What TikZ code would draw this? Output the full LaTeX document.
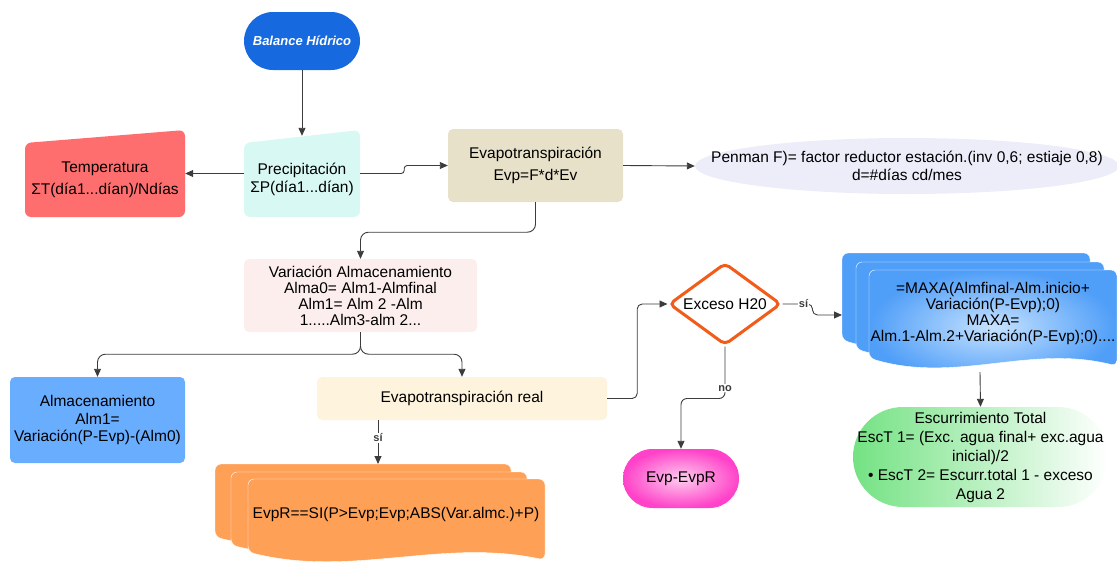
\documentclass[tikz,border=0pt]{standalone}
\usepackage{fontspec}
\setmainfont{Liberation Sans}
\usetikzlibrary{shapes.geometric,arrows.meta}

\definecolor{balblue}{HTML}{1769E0}
\definecolor{tempred}{HTML}{FF6E6E}
\definecolor{preccyan}{HTML}{D8F8F3}
\definecolor{evapbeige}{HTML}{E8E1C9}
\definecolor{penlav}{HTML}{EDEDFA}
\definecolor{varpink}{HTML}{FDEEEE}
\definecolor{almblue}{HTML}{69ADFF}
\definecolor{realcream}{HTML}{FEF3DC}
\definecolor{evprorange}{HTML}{FFA057}
\definecolor{excorange}{HTML}{F25C19}
\definecolor{maxablue}{HTML}{4F9EF8}
\definecolor{maxalight}{HTML}{C6E2FF}
\definecolor{escgreen}{HTML}{74E283}
\definecolor{eepink}{HTML}{FF42C9}
\definecolor{eelight}{HTML}{FFCDEF}
\definecolor{linegray}{HTML}{3C3C3C}

\tikzset{
  box/.style={rounded corners=5pt, align=center, inner sep=2pt},
  conn/.style={draw=linegray, line width=0.9pt, -{Triangle[length=8pt,width=7pt]}},
  lbl/.style={fill=white, inner sep=1pt, text=linegray, font=\bfseries\fontsize{11}{13}\selectfont},
  manual/.style={minimum width=116pt, minimum height=87pt, align=center, inner sep=2pt,
    path picture={\fill[#1, rounded corners=6pt] ([yshift=-13pt]path picture bounding box.north west)
      -- (path picture bounding box.north east) -- (path picture bounding box.south east)
      -- (path picture bounding box.south west) -- cycle;}}
}

\begin{document}
\begin{tikzpicture}[x=1pt, y=-1pt, font=\fontsize{15.5}{17.5}\selectfont]
\useasboundingbox (0,0) rectangle (1117,562);

% stacked sheets
\foreach \dx/\dy in {0/0,16/8}
  \draw[draw=white, fill=evprorange, rounded corners=6pt] (215+\dx,537+\dy) -- (215+\dx,464+\dy) -- (511+\dx,464+\dy) -- (511+\dx,545+\dy) .. controls (407+\dx,523+\dy) and (319+\dx,563+\dy) .. (215+\dx,537+\dy) -- cycle;
\draw[draw=white, fill=evprorange, rounded corners=6pt] (248,552) -- (248,479) -- (545,479) -- (545,560) .. controls (441,538) and (352,578) .. (248,552) -- cycle;

\foreach \dx/\dy in {0/0,14/9}
  \draw[draw=white, fill=maxablue, rounded corners=6pt] (842+\dx,340+\dy) -- (842+\dx,253+\dy) -- (1090+\dx,253+\dy) -- (1090+\dx,348+\dy) .. controls (1003+\dx,326+\dy) and (929+\dx,366+\dy) .. (842+\dx,340+\dy) -- cycle;
\shadedraw[draw=white, inner color=maxalight, outer color=maxablue, rounded corners=6pt] (869,358) -- (869,270) -- (1117,270) -- (1117,366) .. controls (1030,344) and (956,384) .. (869,358) -- cycle;
\coordinate (maxain) at (842,315);
\coordinate (maxaout) at (980,372);
\coordinate (evprtop) at (378,464);

% nodes
\node[box, fill=balblue, rounded corners=29pt, minimum width=116pt, minimum height=58pt, text=white, font=\bfseries\itshape\fontsize{13}{15}\selectfont] (bal) at (302,41) {Balance Hídrico};
\node[manual=preccyan] (prec) at (302,173.5) {\mbox{}\\[5.5pt]Precipitación\\ΣP(día1...dían)};
\node[manual=tempred, minimum width=160pt] (temp) at (105,173.5) {\mbox{}\\[5.5pt]Temperatura\\[5pt]ΣT(día1...dían)/Ndías};
\node[box, fill=evapbeige, minimum width=175pt, minimum height=73pt] (evap) at (535.5,165.5) {Evapotranspiración\\[5pt]Evp=F*d*Ev};
\node[align=center, inner sep=0pt, minimum width=424pt, minimum height=56pt,
  path picture={\fill[penlav] (path picture bounding box.center) ellipse [x radius=212pt, y radius=28pt];}] (pen) at (907,166)
  {Penman F)= factor reductor estación.(inv 0,6; estiaje 0,8)\\d=\#días cd/mes};
\node[box, fill=varpink, minimum width=233pt, minimum height=73pt, font=\fontsize{15.5}{16}\selectfont] (var) at (360.5,295.5)
  {Variación Almacenamiento\\Alma0= Alm1-Almfinal\\Alm1= Alm 2 -Alm\\1.....Alm3-alm 2...};
\node[box, fill=almblue, minimum width=175pt, minimum height=86pt] (alm) at (97.5,420) {Almacenamiento\\Alm1=\\Variación(P-Evp)-(Alm0)};
\node[box, fill=realcream, minimum width=290pt, minimum height=43pt] (real) at (462,398.5) {Evapotranspiración real};
\node[diamond, aspect=1.34, draw=excorange, line width=3pt, fill=white, rounded corners=5pt, minimum width=112pt, minimum height=82pt, inner sep=0pt] (exc) at (725,304) {Exceso H20};
\node[align=center, font=\fontsize{15.5}{16}\selectfont] (maxa) at (993,313)
  {=MAXA(Almfinal-Alm.inicio+\\Variación(P-Evp);0)\\MAXA=\\Alm.1-Alm.2+Variación(P-Evp);0)....};
\node[align=center] (evpr) at (396,514) {EvpR==SI(P>Evp;Evp;ABS(Var.almc.)+P)};
\node[box, rounded corners=29.5pt, inner color=eelight, outer color=eepink, minimum width=116pt, minimum height=59pt] (ee) at (681,478.5) {Evp-EvpR};
\node[box, rounded corners=50pt, left color=escgreen, right color=white, minimum width=255pt, minimum height=100pt, font=\fontsize{15.5}{19}\selectfont] (esc) at (980.5,457)
  {Escurrimiento Total\\EscT 1= (Exc. agua final+ exc.agua\\inicial)/2\\• EscT 2= Escurr.total 1 - exceso\\Agua 2};

% connectors
\draw[conn] (bal.south) -- ([yshift=-6pt]prec.north);
\draw[conn] (prec.west) -- (temp.east);
\draw[conn, rounded corners=3pt] (prec.east) -- ++(44,0) |- (evap.west);
\draw[conn] (evap.east) -- (pen.west);
\draw[conn, rounded corners=8pt] (evap.south) -- ++(0,30) -| (var.north);
\draw[conn, rounded corners=8pt] (var.south) -- ++(0,22) -| (alm.north);
\draw[conn, rounded corners=8pt] (var.south) -- ++(0,22) -| (real.north);
\draw[conn, rounded corners=5pt] (real.east) -- ++(30,0) |- (exc.west);
\draw[conn, rounded corners=5pt] (exc.east) -- node[lbl, pos=0.7]{sí} ++(30,0) |- (maxain);
\draw[conn, rounded corners=6pt] (exc.south) -- node[lbl, pos=0.8]{no} ++(0,52) -| (ee.north);
\draw[conn] (real.south -| evprtop) -- node[lbl, pos=0.4]{sí} (evprtop);
\draw[conn] (maxaout) -- (esc.north);
\end{tikzpicture}
\end{document}
